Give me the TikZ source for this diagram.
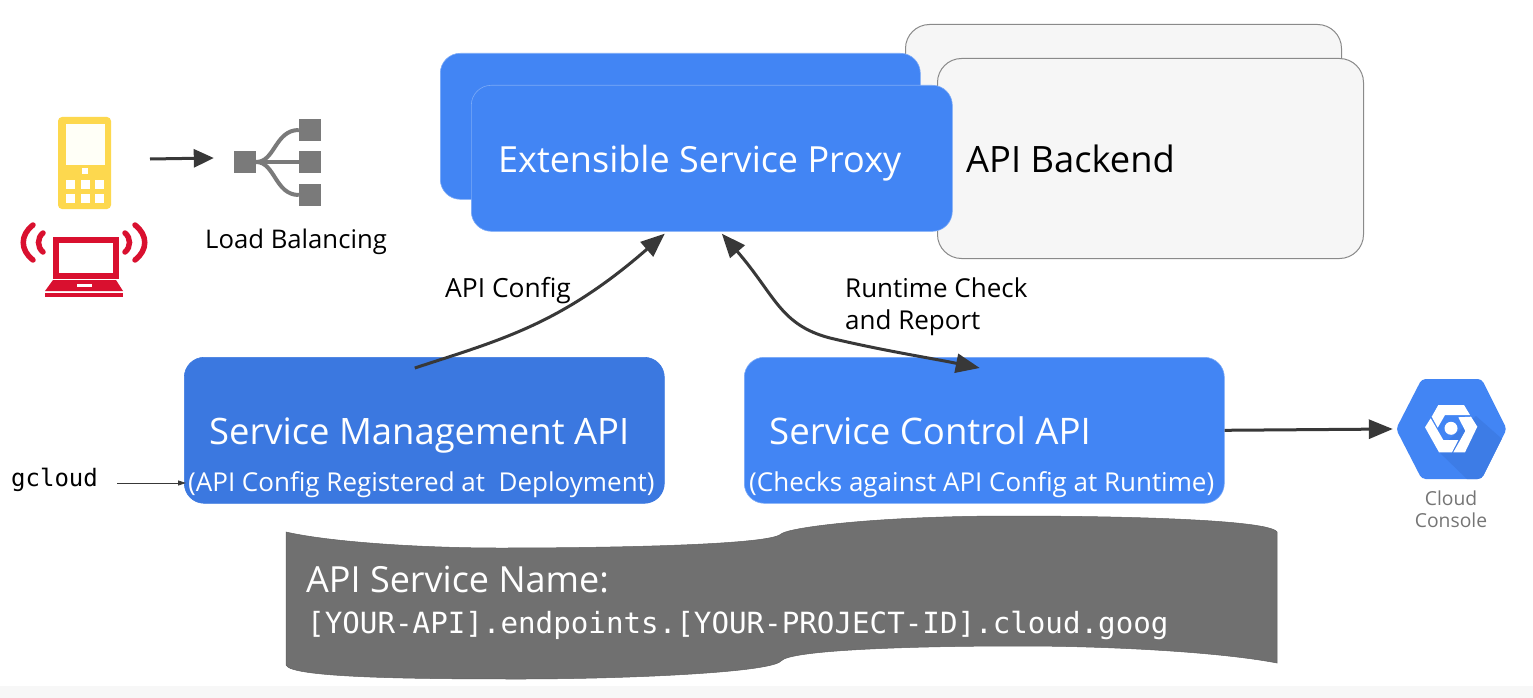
\documentclass[tikz,border=0pt]{standalone}
\usepackage{fontspec}
\setmainfont{Open Sans}
\newfontfamily\monof{DejaVu Sans Mono}
\usetikzlibrary{arrows.meta}
\definecolor{gblue}{HTML}{4285F4}
\definecolor{gbluedk}{HTML}{3B78E0}
\definecolor{gshadow}{HTML}{3D7CE6}
\definecolor{bandgray}{HTML}{707070}
\definecolor{arrowdk}{HTML}{383838}
\definecolor{phoneyel}{HTML}{FDD84E}
\definecolor{lapred}{HTML}{D9102F}
\definecolor{lbgray}{HTML}{7A7A7A}
\definecolor{backfill}{HTML}{F6F6F6}
\definecolor{backline}{HTML}{8A8A8A}
\definecolor{consolegray}{HTML}{757575}
\definecolor{stripgray}{HTML}{F7F7F7}
\tikzset{
 x=1pt,y=-1pt,
 bluebox/.style={rounded corners=20pt,fill=gblue,draw=gblue!70!white,line width=.6pt,inner sep=0pt,minimum width=#1},
 backbox/.style={rounded corners=24pt,fill=backfill,draw=backline,line width=1pt,inner sep=0pt,minimum width=#1},
 lbl/.style={inner sep=0pt,anchor=base west,text=#1},
 lbl/.default=black,
 conn/.style={draw=arrowdk,line width=3pt,-{Triangle[length=24pt,width=19pt]}},
 lbline/.style={draw=lbgray,line width=4pt},
 lbsq/.style={fill=lbgray},
 whitekey/.style={fill=white},
}
\newcommand{\fs}[1]{\fontsize{#1}{#1}\selectfont}
\begin{document}
\begin{tikzpicture}
\useasboundingbox[fill=white] (0,0) rectangle (1533,698);
\fill[stripgray] (0,686) rectangle (1533,698);

% API backend
\node[backbox=436pt,minimum height=150pt,anchor=north west] (back1) at (905,24) {};
\node[backbox=426pt,minimum height=200pt,anchor=north west] (back2) at (937,58) {};
\node[lbl,font=\fs{36.3}] (backtxt) at (966,172) {API Backend};

% proxy
\node[bluebox=480pt,minimum height=146pt,anchor=north west] (esp2) at (440,53) {};
\node[bluebox=481pt,minimum height=146pt,anchor=north west] (esp) at (471,85) {};
\node[lbl=white,font=\fs{36}] (esptxt) at (498,172) {Extensible Service Proxy};

% lower boxes
\node[bluebox=480pt,minimum height=146pt,anchor=north west,fill=gbluedk,draw=gbluedk] (sm) at (184,357) {};
\node[lbl=white,font=\fs{36.4}] (smtxt) at (209,444) {Service Management API};
\node[lbl=white,font=\fs{26}] (smsub) at (188,491) {(API Config Registered at\ \ Deployment)};
\node[bluebox=480pt,minimum height=146pt,anchor=north west] (sc) at (744,357) {};
\node[lbl=white,font=\fs{36.6}] (sctxt) at (769,444) {Service Control API};
\node[lbl=white,font=\fs{26}] (scsub) at (749,491) {(Checks against API Config at Runtime)};

% connector labels
\node[lbl,font=\fs{26.4}] (l1) at (445,297) {API Config};
\node[lbl,font=\fs{26}] (l2) at (845,297) {Runtime Check};
\node[lbl,font=\fs{26}] (l3) at (845,329) {and Report};

% connectors
\draw[conn] ([xshift=-9.5pt,yshift=-11pt]sm.north) .. controls (500,340) and (560,325) .. ([xshift=-47pt,yshift=-2pt]esp.south);
\draw[draw=arrowdk,line width=3pt,{Triangle[length=24pt,width=19pt]}-{Triangle[length=24pt,width=19pt]}]
  ([xshift=10pt,yshift=-2pt]esp.south) .. controls (775,295) and (780,325) .. (830,338) .. controls (880,350) and (930,358) .. ([xshift=-4.5pt,yshift=-11pt]sc.north);

% cloud console
\path[fill=gblue,rounded corners=4pt] (1396,429) -- (1421.7,379) -- (1481.7,379) -- (1506.7,429) -- (1481.7,479) -- (1421.7,479) -- cycle;
\begin{scope}
\clip[rounded corners=4pt] (1396,429) -- (1421.7,379) -- (1481.7,379) -- (1506.7,429) -- (1481.7,479) -- (1421.7,479) -- cycle;
\fill[gshadow] (1476,416) -- (1510,446) -- (1484,482) -- (1470,482) -- (1437,450) -- cycle;
\end{scope}
\node[circle,minimum size=116pt,inner sep=0pt] (cc) at (1451,429) {};
\fill[white] (1438.3,405) -- (1464,405) -- (1470,415) -- (1445,415) -- (1437.7,427.7) -- (1431.7,416.7) -- cycle;
\fill[white] (1471,416.7) -- (1477.3,426.7) -- (1465,452.3) -- (1453.3,452.3) -- (1465.3,431) -- (1458.3,417.3) -- cycle;
\fill[white] (1425,427.3) -- (1430.7,418.3) -- (1443.3,440) -- (1458.3,440) -- (1452,452.3) -- (1439,452.3) -- cycle;
\fill[white] (1451,428.3) circle[radius=6.5];
\node[font=\fs{19.3},text=consolegray,align=center,inner sep=0pt,anchor=north] (cctxt) at (1451,491) {Cloud\\[2pt]Console};
\draw[conn] (sc.east) -- (cc.west);

% gcloud
\node[lbl,font={\fs{24}\monof}] (gc) at (11,486) {gcloud};
\coordinate (gcend) at (186,483);
\coordinate (gcstart) at (117,483);
\draw[draw=arrowdk,line width=.8pt,-{Triangle[length=8pt,width=5pt]}] (gcstart) -- (gcend);

% phone
\fill[phoneyel,rounded corners=4pt] (58,117) rectangle (111,209);
\fill[white!97!yellow] (66,124) rectangle (105,165);
\foreach \px in {70,85,99}{\foreach \py in {184,198}{\fill[whitekey] (\px-4.5,\py-4.5) rectangle (\px+4.5,\py+4.5);}}
\fill[whitekey] (82,168) rectangle (87.5,174);

% laptop
\draw[lapred,line width=5.5pt] (56,240) rectangle (116,276);
\fill[lapred] (53,280) -- (116,280) -- (123,291) -- (45,291) -- cycle;
\fill[lapred] (45,293) rectangle (123,297);
\fill[white] (77,284) rectangle (92,287);
\draw[lapred,line width=5.5pt,line cap=round] (33,225) .. controls (20,235) and (20,250) .. (33,260);
\draw[lapred,line width=5.5pt,line cap=round] (43,233) .. controls (37,238) and (37,247) .. (43,252);
\draw[lapred,line width=5.5pt,line cap=round] (135,225) .. controls (148,235) and (148,250) .. (135,260);
\draw[lapred,line width=5.5pt,line cap=round] (125,233) .. controls (131,238) and (131,247) .. (125,252);

% load balancer
\node[lbsq,minimum size=22pt,inner sep=0pt] (lb0) at (245,162) {};
\node[lbsq,minimum size=22pt,inner sep=0pt] (lb1) at (310,130) {};
\node[lbsq,minimum size=22pt,inner sep=0pt] (lb2) at (310,162) {};
\node[lbsq,minimum size=22pt,inner sep=0pt] (lb3) at (310,195) {};
\draw[lbline] (lb0.east) -- (lb2.west);
\draw[lbline] (lb0.east) .. controls (275,162) and (275,130) .. (lb1.west);
\draw[lbline] (lb0.east) .. controls (275,162) and (275,195) .. (lb3.west);
\node[lbl,font=\fs{25.7}] (lbtxt) at (205,248) {Load Balancing};
\coordinate (devout) at (150,159);
\draw[draw=arrowdk,line width=3pt,-{Triangle[length=20pt,width=18pt]}] (devout) -- ([xshift=-20pt,yshift=4pt]lb0.west);

% band
\path[fill=bandgray,draw=bandgray!85!black,line width=.5pt] (286,532) .. controls (330,542) and (420,548) .. (500,548)
 .. controls (610,548) and (770,545) .. (781,534) .. controls (790,527) and (880,516) .. (1010,516)
 .. controls (1130,516) and (1270,520) .. (1277,532) -- (1277,663)
 .. controls (1220,652) and (1110,646) .. (1020,646) .. controls (910,646) and (790,650) .. (781,661)
 .. controls (770,673) and (620,679) .. (520,679) .. controls (420,679) and (290,678) .. (286,665) -- cycle;
\node[lbl=white,font=\fs{36}] (bt1) at (306,592) {API Service Name:};
\node[lbl=white,font={\fs{29.2}\monof}] (bt2) at (307,633) {[YOUR-API].endpoints.[YOUR-PROJECT-ID].cloud.goog};
\end{tikzpicture}
\end{document}
